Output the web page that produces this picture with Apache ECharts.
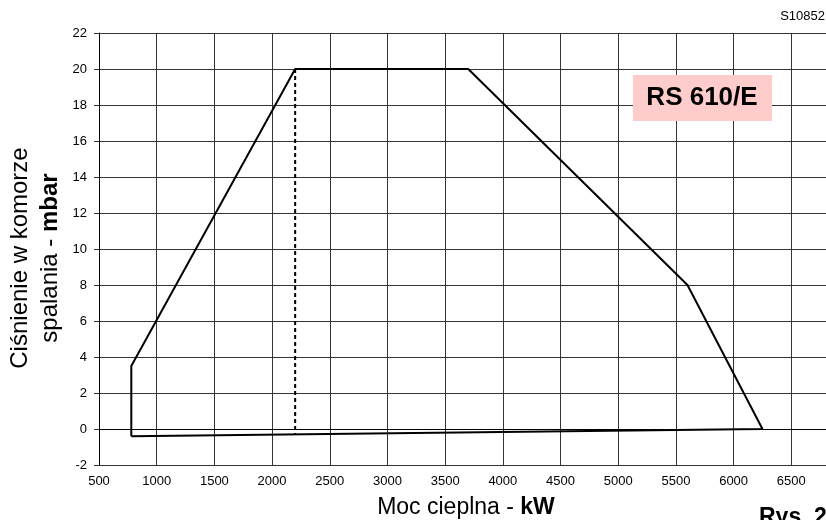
<!DOCTYPE html>
<html>
<head>
<meta charset="utf-8">
<script src="https://cdn.jsdelivr.net/npm/echarts@6/dist/echarts.min.js"></script>
<style>
  html, body { margin: 0; padding: 0; background: #fff; }
  #chart { width: 826px; height: 520px; }
</style>
</head>
<body>
<div id="chart"></div>
<script>
// working range outline (kW, mbar)
var rangeX = [780, 780, 2200, 3700, 5600, 6250, 780];
var rangeY = [-0.4, 3.5, 20, 20, 8, 0, -0.4];
// dashed divider
var dashX = [2200, 2200];
var dashY = [20, -0.3];

var xTicks = [500, 7000, 500];   // min, max, step
var yTicks = [-2, 22, 2];

function pairs(xs, ys) {
  var out = [];
  for (var i = 0; i < xs.length; i++) out.push([xs[i], ys[i]]);
  return out;
}

var chart = echarts.init(document.getElementById('chart'));
var font = 'Liberation Sans, Arial, sans-serif';

var option = {
  animation: false,
  grid: { left: 99, top: 33, bottom: 55, right: -23, outerBoundsMode: 'none', containLabel: false },
  xAxis: {
    type: 'value',
    min: xTicks[0], max: xTicks[1], interval: xTicks[2],
    axisLine: { show: true, lineStyle: { color: '#000', width: 1 } },
    axisTick: { show: false },
    axisLabel: { color: '#000', fontSize: 13, fontFamily: font, margin: 10, formatter: function (v) { return String(v); } },
    splitLine: { show: true, lineStyle: { color: '#333', width: 1 } }
  },
  yAxis: {
    type: 'value',
    min: yTicks[0], max: yTicks[1], interval: yTicks[2],
    axisLine: { show: true, lineStyle: { color: '#000', width: 1 } },
    axisTick: { show: true, length: 5, lineStyle: { color: '#333' } },
    axisLabel: { color: '#000', fontSize: 13, fontFamily: font, margin: 12 },
    splitLine: { show: true, lineStyle: { color: '#333', width: 1 } }
  },
  series: [
    {
      type: 'line',
      data: pairs(rangeX, rangeY),
      showSymbol: false,
      lineStyle: { color: '#000', width: 2 },
      z: 3
    },
    {
      type: 'line',
      data: pairs(dashX, dashY),
      showSymbol: false,
      lineStyle: { color: '#000', width: 2, type: [4, 3] },
      z: 3
    }
  ],
  graphic: [
    {
      type: 'text', x: 35, y: 258, rotation: Math.PI / 2,
      style: {
        text: 'Ciśnienie w komorze\nspalania - {b|mbar}',
        align: 'center', verticalAlign: 'middle',
        fontSize: 24, fontFamily: font, fill: '#000', lineHeight: 30,
        rich: { b: { fontSize: 24, fontWeight: 'bold', fontFamily: font, fill: '#000', lineHeight: 30 } }
      }
    },
    {
      type: 'text', x: 466, y: 508,
      style: {
        text: 'Moc cieplna - {b|kW}',
        align: 'center', verticalAlign: 'middle',
        fontSize: 23, fontFamily: font, fill: '#000',
        rich: { b: { fontSize: 23, fontWeight: 'bold', fontFamily: font, fill: '#000' } }
      }
    },
    {
      type: 'text', x: 759, y: 506,
      style: { text: 'Rys. 2', fontSize: 23, fontWeight: 'bold', fontFamily: font, fill: '#000', verticalAlign: 'top' }
    },
    {
      type: 'text', x: 825, y: 16,
      style: { text: 'S10852', fontSize: 13, fontFamily: font, fill: '#000', align: 'right', verticalAlign: 'middle' }
    },
    {
      type: 'rect', shape: { x: 633, y: 75, width: 139, height: 46 },
      style: { fill: '#ffcccc' }, z: 10
    },
    {
      type: 'text', x: 702, y: 98, z: 11,
      style: { text: 'RS 610/E', fontSize: 26, fontWeight: 'bold', fontFamily: font, fill: '#000', align: 'center', verticalAlign: 'middle' }
    }
  ]
};

chart.setOption(option);
</script>
</body>
</html>
